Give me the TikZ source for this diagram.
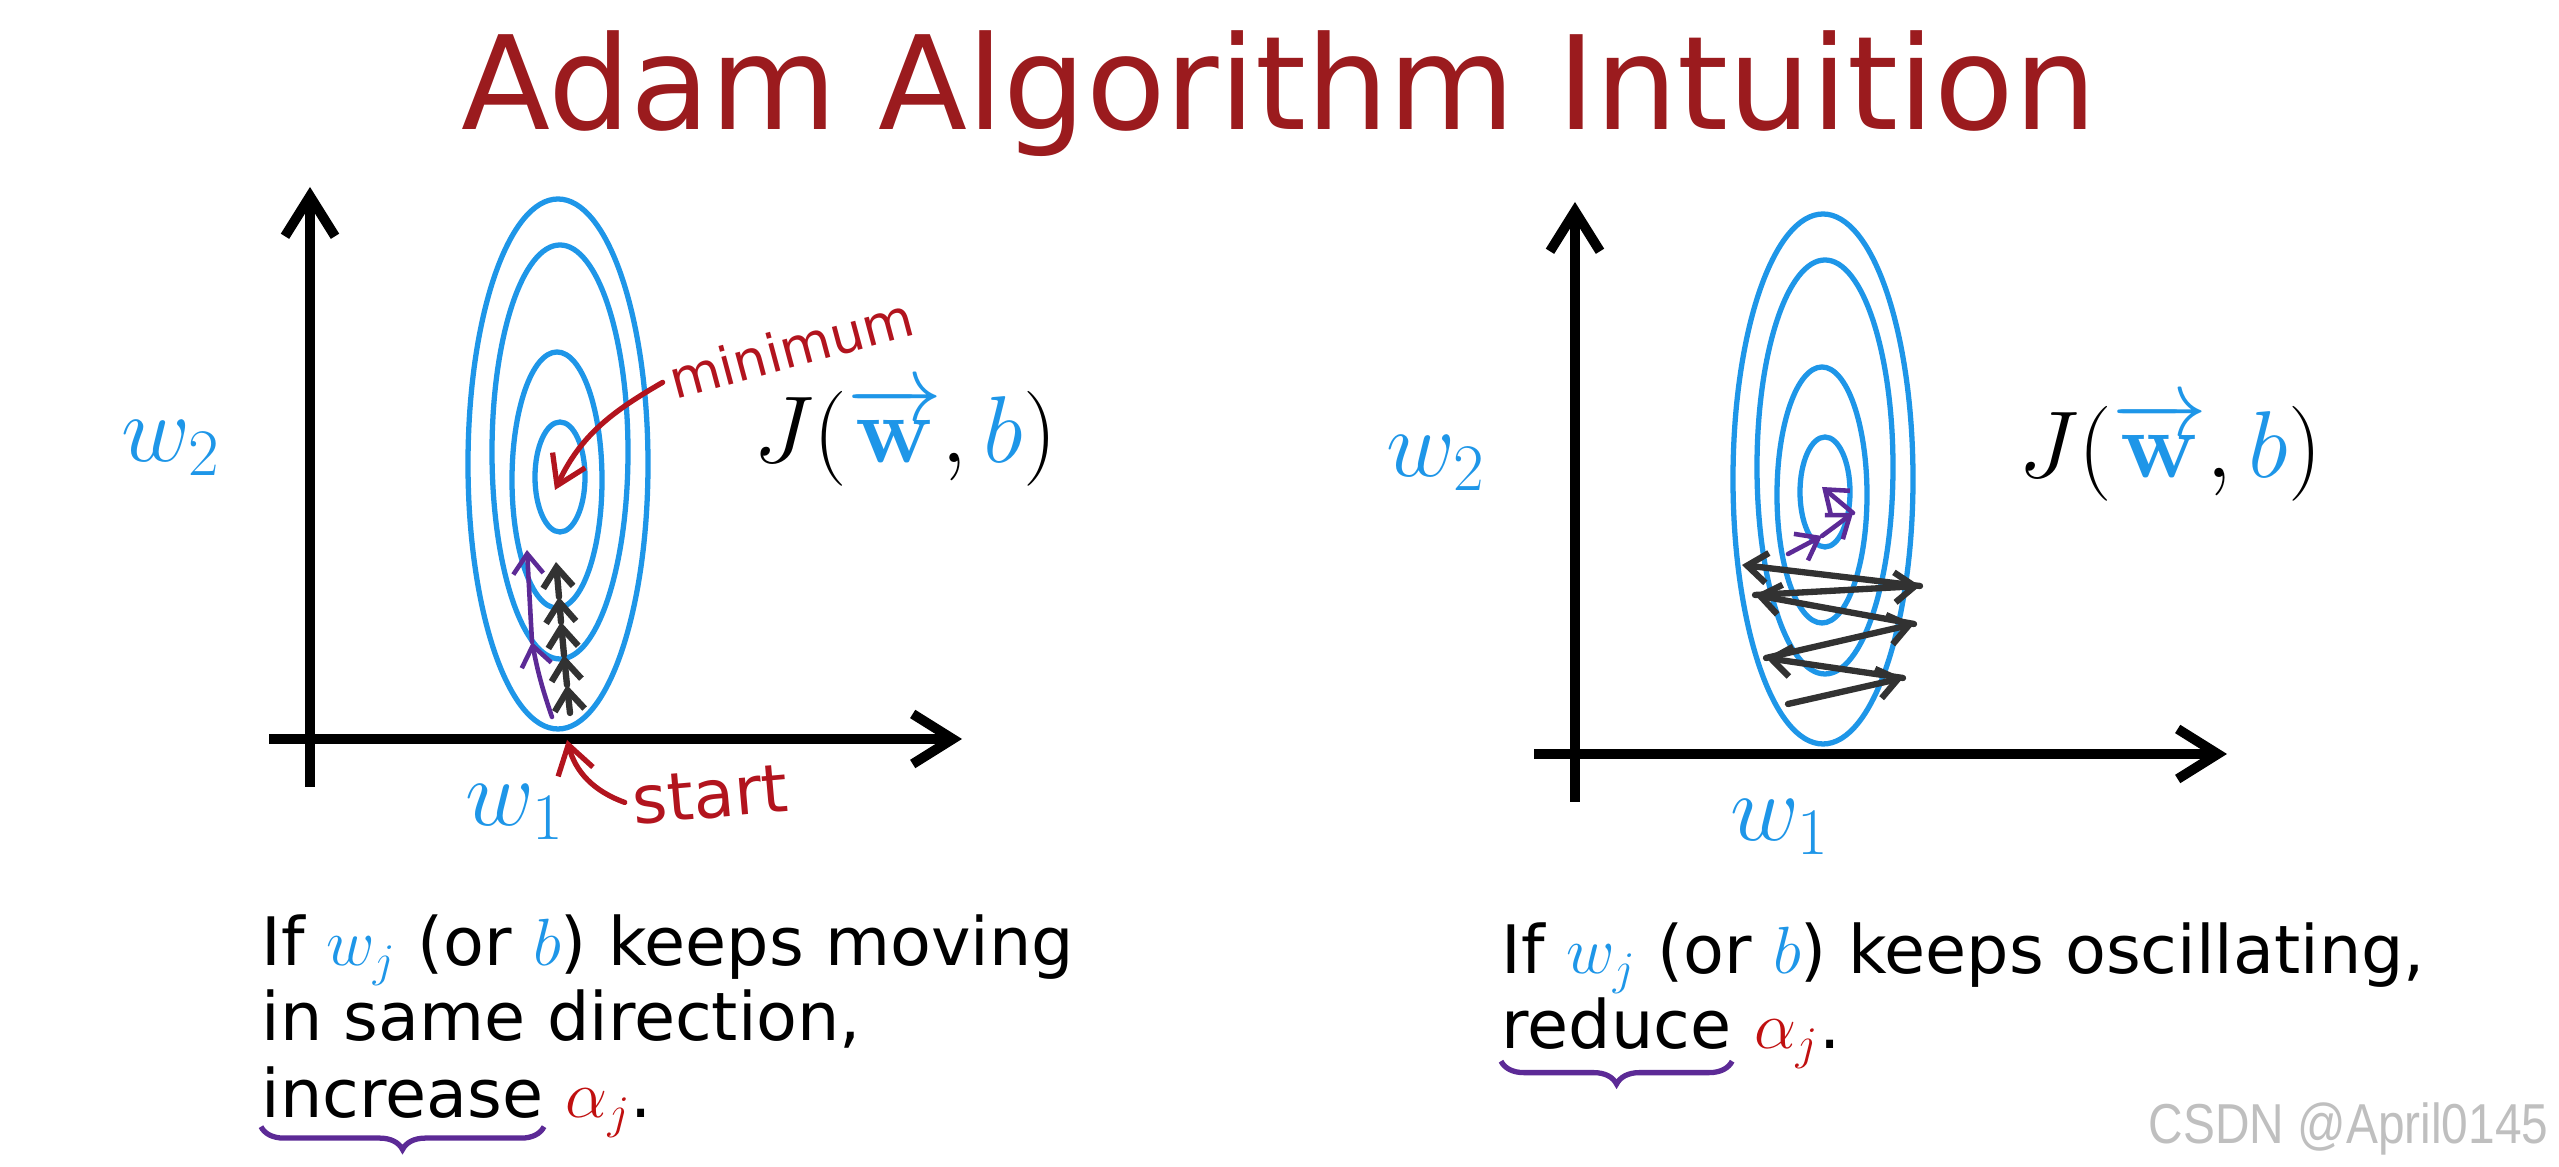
\RequirePackage{fix-cm}
\documentclass[tikz,border=0pt]{standalone}
\usepackage{amsmath}
\usepackage[no-math]{fontspec}
\setmainfont{DejaVu Sans}
\newfontfamily\markfont{Liberation Sans}[FakeStretch=0.85]
\usetikzlibrary{arrows.meta, positioning, calc, decorations.pathreplacing}

\definecolor{slideblue}{RGB}{30,150,232}
\definecolor{titlered}{RGB}{155,27,30}
\definecolor{inkred}{RGB}{178,20,30}
\definecolor{alphared}{RGB}{192,16,16}
\definecolor{inkpurple}{RGB}{92,42,150}
\definecolor{inkgray}{RGB}{50,50,50}

\tikzset{
    slidetitle/.style={font=\fontsize{37}{44}\selectfont, text=titlered, anchor=base, inner sep=0pt},
    axis/.style={line width=2.8pt, -{Straight Barb[length=4mm, width=5mm]}},
    contour/.style={draw=slideblue, line width=1.5pt},
    axlabel/.style={font=\fontsize{27}{31}\selectfont, text=slideblue},
    costlabel/.style={font=\fontsize{27}{32}\selectfont},
    graystep/.style={draw=inkgray, line width=1.8pt, line cap=round, -{Straight Barb[length=2mm, width=3mm]}},
    purplestep/.style={draw=inkpurple, line width=1.3pt, line cap=round, -{Straight Barb[length=2mm, width=3mm]}},
    redarrow/.style={draw=inkred, line width=1.5pt, line cap=round, -{Straight Barb[length=2.8mm, width=3.6mm]}},
    handnote/.style={text=inkred, inner sep=2pt},
    bodytext/.style={font=\fontsize{19}{23}\selectfont, anchor=base west, inner sep=0pt},
    hbrace/.style={draw=inkpurple, line width=1.5pt, decorate, decoration={brace, amplitude=6.5pt}},
    watermark/.style={font=\markfont\fontsize{16}{19}\selectfont, text=black!25, anchor=east, inner sep=0pt}
}

\begin{document}
\begin{tikzpicture}[x=0.01cm, y=0.01cm]
    \useasboundingbox (0,0) rectangle (2559,1167);
    \fill[white] (0,0) rectangle (2559,1167);

    % Title
    \node[slidetitle] (title) at (1279,1037) {Adam Algorithm Intuition};

    % Plot origins
    \coordinate (oL) at (310,428);
    \coordinate (oR) at (1575,413);

    % Axes, contours and labels (same for both plots)
    \foreach \p in {L, R} {
        \begin{scope}[shift={(o\p)}]
            \coordinate (ybot\p) at (0,-48);
            \coordinate (ytop\p) at (0,552);
            \coordinate (xlft\p) at (-41,0);
            \coordinate (xrgt\p) at (652,0);
            \draw[axis] (ybot\p) -- (ytop\p);
            \draw[axis] (xlft\p) -- (xrgt\p);
            \foreach \cx/\cy/\rx/\ry in {248/275/90/265, 250/287/68/207, 247/259/45/128, 250/262/25/55}
                \draw[contour] (\cx,\cy) ellipse [x radius=\rx, y radius=\ry];
            \node[axlabel] (wtwo\p) at (-139,291) {$w_2$};
            \node[axlabel] (wone\p) at (205,-73) {$w_1$};
            \node[costlabel] (cost\p) at (595,303)
                {$J(\textcolor{slideblue}{\overrightarrow{\mathbf{w}}},\textcolor{slideblue}{b})$};
        \end{scope}
    }

    % Left plot: steps in the same direction
    \begin{scope}[shift={(oL)}]
        \foreach \n/\x/\y in {0/260/26, 1/257/54, 2/254/84, 3/251/117, 4/249/142, 5/246/177}
            \coordinate (k\n) at (\x,\y);
        \coordinate (p0) at (242,22);
        \coordinate (p1) at (222,97);
        \coordinate (p2) at (217,189);
        \coordinate (minpt) at (245,249);
        \coordinate (startpt) at (257,-1);
        \node[handnote, font=\fontsize{15}{18}\selectfont, rotate=15] (minlabel) at (481,391) {minimum};
        \node[handnote, font=\fontsize{19}{22}\selectfont, rotate=5] (startlabel) at (400,-56) {start};
    \end{scope}
    \foreach \a/\b in {0/1, 1/2, 2/3, 3/4, 4/5}
        \draw[graystep] (k\a) -- (k\b);
    \draw[purplestep] (p0) to[bend left=4] (p1);
    \draw[purplestep] (p1) -- (p2);
    \draw[redarrow] (minlabel.west) to[out=210, in=65] (minpt);
    \draw[redarrow] (startlabel.west) to[out=160, in=-75] (startpt);

    % Right plot: oscillating steps
    \begin{scope}[shift={(oR)}]
        \foreach \n/\x/\y in {0/213/50, 1/328/76, 2/191/96, 3/339/130, 4/180/159, 5/345/168, 6/167/189}
            \coordinate (z\n) at (\x,\y);
        \foreach \n/\x/\y in {0/213/200, 1/247/218, 2/278/241, 3/247/267}
            \coordinate (q\n) at (\x,\y);
    \end{scope}
    \foreach \a/\b in {0/1, 1/2, 2/3, 3/4, 4/5, 5/6}
        \draw[graystep] (z\a) -- (z\b);
    \foreach \a/\b in {0/1, 1/2, 2/3}
        \draw[purplestep] (q\a) -- (q\b);

    % Captions
    \node[bodytext] (leftA) at (261,201)
        {If \textcolor{slideblue}{$w_j$} (or \textcolor{slideblue}{$b$}) keeps moving};
    \node[bodytext] (leftB) at (261,126) {in same direction,};
    \node[bodytext] (incword) at (261,49) {increase};
    \node[bodytext] (incalpha) at (incword.base east) {\ \textcolor{alphared}{$\alpha_j$}.};
    \draw[hbrace] ([yshift=-2pt]incword.south east) -- ([yshift=-2pt]incword.south west);

    \node[bodytext] (rightA) at (1501,193)
        {If \textcolor{slideblue}{$w_j$} (or \textcolor{slideblue}{$b$}) keeps oscillating,};
    \node[bodytext] (redword) at (1501,118) {reduce};
    \node[bodytext] (redalpha) at (redword.base east) {\ \textcolor{alphared}{$\alpha_j$}.};
    \draw[hbrace] ([yshift=-3pt]redword.south east) -- ([yshift=-3pt]redword.south west);

    % Watermark
    \node[watermark] (mark) at (2549,38) {CSDN @April0145};
\end{tikzpicture}
\end{document}
